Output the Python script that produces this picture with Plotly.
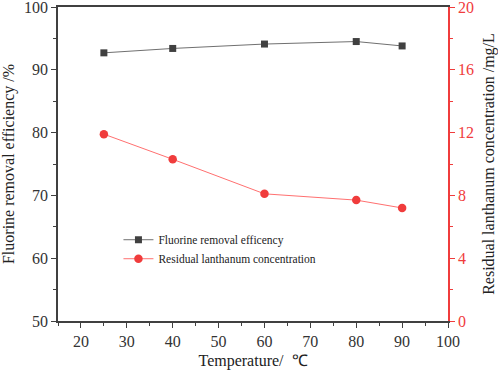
import plotly.graph_objects as go

temperature = [25, 40, 60, 80, 90]
fluorine_removal = [92.7, 93.4, 94.1, 94.5, 93.8]
residual_la = [11.9, 10.3, 8.1, 7.7, 7.2]

FONT = "Liberation Serif, Times New Roman, serif"
DARK = "#404040"
RED = "#f03c3c"

fig = go.Figure()
fig.add_trace(go.Scatter(
    x=temperature, y=fluorine_removal, name="Fluorine removal efficency",
    mode="lines+markers",
    line=dict(color="#707070", width=1),
    marker=dict(symbol="square", size=7, color=DARK),
))
fig.add_trace(go.Scatter(
    x=temperature, y=residual_la, name="Residual lanthanum concentration",
    mode="lines+markers", yaxis="y2",
    line=dict(color="#ff7070", width=1),
    marker=dict(symbol="circle", size=8.5, color=RED),
))

fig.update_layout(
    width=498, height=370,
    margin=dict(l=58, r=50, t=7, b=49, autoexpand=False),
    paper_bgcolor="white", plot_bgcolor="white",
    font=dict(family=FONT, color="#222"),
    showlegend=True,
    legend=dict(x=0.155, y=0.305, xanchor="left", yanchor="top",
                bgcolor="rgba(0,0,0,0)", borderwidth=0,
                font=dict(family=FONT, size=11.5, color="#222"),
                tracegroupgap=0, itemwidth=30),
    xaxis=dict(
        range=[15, 100], dtick=10, tick0=0, automargin=False,
        showline=True, linecolor=DARK, linewidth=1.5, mirror=True,
        ticks="outside", ticklen=5, tickcolor=DARK, tickwidth=1,
        minor=dict(dtick=5, ticks="outside", ticklen=3, tickcolor=DARK),
        showgrid=False, zeroline=False, ticklabeloverflow="allow",
        tickfont=dict(family=FONT, size=16, color="#333"),
        title=dict(text="Temperature/  ℃", font=dict(family=FONT, size=16, color="#222")),
    ),
    yaxis=dict(
        range=[50, 100], dtick=10, automargin=False,
        showline=True, linecolor=DARK, linewidth=1.5,
        ticks="outside", ticklen=5, tickcolor=DARK, tickwidth=1,
        minor=dict(dtick=5, ticks="outside", ticklen=3, tickcolor=DARK),
        showgrid=False, zeroline=False, ticklabeloverflow="allow",
        tickfont=dict(family=FONT, size=16, color="#333"),
        title=dict(text="Fluorine removal efficiency /%", font=dict(family=FONT, size=16, color="#222")),
    ),
    yaxis2=dict(
        range=[0, 20], dtick=4, overlaying="y", side="right", automargin=False,
        showline=True, linecolor=RED, linewidth=1.5,
        ticks="outside", ticklen=5, tickcolor=RED, tickwidth=1,
        minor=dict(dtick=2, ticks="outside", ticklen=3, tickcolor=RED),
        showgrid=False, zeroline=False, ticklabeloverflow="allow",
        tickfont=dict(family=FONT, size=16, color=RED),
        title=dict(text="Residual lanthanum concentration /mg/L", font=dict(family=FONT, size=16, color="#222")),
    ),
)

fig.write_html("out.html", config={"displayModeBar": False},
               post_script="document.body.style.margin='0';")
